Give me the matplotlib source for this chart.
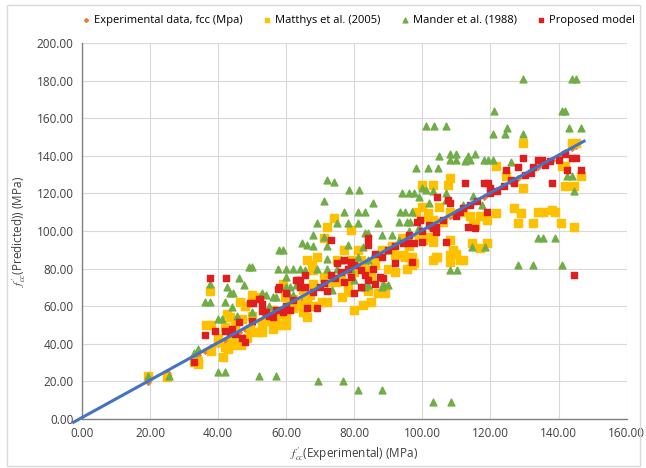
import matplotlib
matplotlib.use('Agg')
import matplotlib.pyplot as plt
from matplotlib.patches import Rectangle

plt.rcParams['font.family'] = ['Open Sans', 'DejaVu Sans']
plt.rcParams['mathtext.fontset'] = 'stix'

# experimental values (plotted on the 1:1 line)
exp_x = [19.5, 25, 33, 34, 36, 38, 40, 42, 44, 46, 48, 50, 52, 54, 56, 58, 60, 62, 64, 66,
         68, 70, 72, 74, 76, 78, 80, 82, 84, 86, 88, 90, 92, 94, 96, 98, 100, 102, 104, 106,
         108, 110, 112, 114, 116, 118, 120, 122, 124, 126, 128, 130, 132, 134, 136, 138, 140,
         142, 144, 145]

# Matthys et al. (2005)
matthys_pts = [
    (19.5, 23), (25, 22.5), (33, 30), (34, 29), (34, 31),
    (37.6, 68), (36.5, 50), (38, 50), (42.6, 56), (43.5, 54), (40, 43), (40, 41), (42, 38), (43, 37),
    (41.5, 33), (38, 36), (46.5, 62), (48, 60), (50, 66), (51.5, 65), (53, 50), (53, 46), (51, 46),
    (47, 42), (48.5, 43), (46.6, 39.4), (44.5, 39.4), (49.4, 48), (52, 46), (42, 49), (44, 43),
    (57, 54), (57.6, 50), (60, 50), (59, 72), (56, 58), (55, 52), (58, 56), (54, 55), (56, 48),
    (45, 50), (47, 53), (50, 55), (59, 70), (59.6, 65), (62, 64), (65, 68.6), (68, 72), (70.6, 62),
    (72, 62), (66, 54), (60, 54), (62, 59), (63, 62), (64, 60), (66, 63), (68, 60), (61, 62), (65, 57),
    (67, 66), (66, 84.5), (67.6, 82), (68, 79), (71, 75.5), (73, 73), (74.5, 73), (76.5, 65),
    (82.5, 60.6), (78, 67.5), (87, 67), (89, 67), (88.6, 67.6), (89, 70), (85, 62), (80, 58),
    (74, 107), (72, 102), (71, 96), (79, 100.5), (77, 90), (69, 86), (75, 84.5), (79, 84.5), (82, 84.5),
    (81, 90), (92, 87), (94.4, 87), (96, 86), (95, 86), (97, 86), (97.4, 83), (95.6, 80), (97, 82),
    (100, 124.5), (103, 124.5), (107.6, 124.5), (108, 128), (98, 110), (101.5, 107.5), (104, 105),
    (102, 97), (103, 94), (104.4, 86), (100, 113), (101.5, 109.6), (103, 106), (106, 105), (108, 95),
    (109, 90), (111.8, 84.6), (103, 95), (104, 86), (100.3, 95), (103, 84.6), (108, 87), (108, 83.5),
    (110, 88), (111, 84.6), (114.7, 93.6), (117, 91), (119, 93.6), (115, 104), (114, 108), (117, 108),
    (119, 106), (115.6, 103), (112, 110), (108, 110), (105, 113),
    (129.7, 147), (144, 147), (145, 147), (121.5, 134.6), (124.7, 129), (129.7, 123), (141, 134.6),
    (142, 134.6), (142, 124), (144.4, 124), (146.5, 129), (127, 112), (129, 109.6), (128, 104),
    (132.6, 104), (134, 110), (135.5, 110), (138, 111), (139, 110), (140.6, 104), (144.4, 102),
    (121.5, 109.6), (80, 78), (83, 80), (85, 76), (86, 82), (90, 80), (92, 78), (76, 76), (78, 72),
    (84, 68), (86, 85), (88, 90), (91, 92), (94, 96), (96, 92), (99, 98),
]

# Mander et al. (1988)
mander_pts = [
    (19.5, 23), (25.5, 23), (33, 35), (34, 37), (40, 25), (42, 25), (52, 23), (57, 23),
    (36, 62), (37.6, 62), (42, 62), (37.6, 72), (42.6, 70), (46, 75), (47.5, 71), (43.5, 67),
    (44.4, 67), (53, 67), (54, 66), (56, 65), (57, 65), (44, 59.6), (45.5, 55), (40, 53), (41, 53),
    (49, 81), (50, 81), (58, 90), (59, 90), (57.6, 80), (60, 80), (62, 80), (64, 80), (65.6, 79),
    (60, 75.5), (60, 70), (61, 70), (63, 71), (60.6, 67), (62, 66), (64.7, 93.6), (66, 92.5),
    (72, 127), (74, 126), (78.5, 122), (81.5, 122), (71, 116), (85.6, 115), (77, 110), (81, 110),
    (83, 110), (69, 104), (75, 104), (78, 104), (81, 104), (87, 104), (93, 105), (83, 99), (84, 99),
    (88, 98), (91, 98), (68, 98), (71, 97), (68, 92), (72, 92), (78, 92.5), (82.5, 91.5), (72, 85),
    (76, 84.5), (81, 86), (84, 84.5), (69, 80), (72, 80), (75, 80), (79, 80), (73.5, 68.6), (80, 74),
    (83, 70), (84, 71), (88.5, 72), (90, 71), (82, 70), (88, 70), (90, 90), (93, 95), (96, 100),
    (99, 102), (55, 60), (50, 57),
    (93.5, 110), (95, 110), (97, 110), (98, 133.5), (101.5, 133.5), (104.5, 133.5), (94, 120),
    (96, 120), (97.5, 120), (95.6, 105), (96.5, 105),
    (69.4, 20), (76.8, 20), (81, 15.5), (88, 15.5), (103, 9), (108.5, 9),
    (100, 123), (101, 122), (103, 121), (107, 120), (102, 115), (107, 116.5), (115, 118.6),
    (117.6, 114), (112, 114), (99, 118), (105, 140), (108, 141), (110, 141), (113.5, 140),
    (115.6, 141), (108, 137.5), (110, 137.5), (112.6, 137), (114, 137.5), (118, 137.5),
    (119.4, 137.5), (120.6, 137.5), (126, 136.7), (101, 156), (103.5, 156), (107, 156), (125, 155),
    (120.6, 151.5), (124.4, 151.5), (129.7, 151.5), (143, 155), (146.5, 155), (121, 164), (141, 164),
    (142, 164), (129.7, 181), (144, 181), (145, 181), (142.6, 129), (144, 129), (144.4, 121),
    (134, 96), (135.5, 96), (139, 96), (108, 79), (110.3, 79), (128, 82), (132.6, 82), (141, 82),
    (114.7, 91.5), (118.5, 91.5),
]

# Proposed model
proposed_pts = [
    (33, 30), (36, 44.6), (37.6, 75), (42.4, 75), (39, 47), (42, 47), (43.5, 46), (47, 43), (48, 41),
    (46, 51.6), (49.4, 61.7), (50.3, 61.7), (52.4, 64), (53, 57.4), (54, 57), (57, 58), (59, 57),
    (57.6, 69), (52, 64), (53, 61), (58, 70), (63, 74), (64, 74), (65.6, 70), (44, 48), (50, 52),
    (55, 55), (45, 45), (60, 60), (62, 63), (56, 54),
    (73, 95), (84, 92.6), (84, 96), (92, 83), (94.4, 93.6), (95.6, 93.6), (97.4, 93.6), (98.5, 105),
    (99.4, 106), (104.4, 118), (75, 83), (77, 84.6), (79, 83.5), (82, 79), (83, 76.6), (85.6, 80),
    (87.6, 75.5), (88.5, 75), (84, 74), (86, 72), (73, 76.6), (74.4, 75), (77, 73), (79, 75.5),
    (63.5, 74), (65.6, 76.6), (64, 70), (60, 67), (82, 70), (80, 67), (66, 59), (61, 58), (69, 59),
    (68, 67.6), (71, 72.5), (97, 83.5), (100, 94), (70, 70), (72, 68), (76, 78), (78, 80), (80, 82),
    (86, 88), (88, 86), (90, 90), (92, 92), (96, 98), (100, 100), (102, 103), (104, 102),
    (129.7, 139), (134, 137.5), (135, 137.5), (144, 139), (145, 139), (124.7, 132.5), (128, 134),
    (132.6, 134), (137.6, 137), (142.6, 132.5), (146.5, 132.5), (138, 125.5), (126.8, 125.5),
    (112.6, 125.5), (118, 125.5), (119.4, 125.5), (120, 123), (144.4, 76.6), (107.4, 116.5),
    (108, 115), (111, 110), (113.5, 102), (115.6, 101.5), (119, 110), (107, 94), (103, 101.5),
    (104, 99.5), (106, 106), (110, 108), (112, 112), (114, 114), (116, 116), (120, 120), (122, 121),
    (124, 124), (126, 127), (130, 130), (132, 131), (136, 135), (140, 138), (142, 141),
]

# 1:1 line
line_x = [-2.5, 147.5]
line_y = [-1.8, 147.8]

fig = plt.figure(figsize=(6.46, 4.68), dpi=100)
ax = fig.add_axes([0.127, 0.105, 0.843, 0.803])

mx, my = zip(*matthys_pts)
gx, gy = zip(*mander_pts)
px, py = zip(*proposed_pts)

ax.scatter(exp_x, exp_x, marker='D', s=8, color='#ED7D31', zorder=3,
           label='Experimental data, fcc (Mpa)')
ax.scatter(mx, my, marker='s', s=26, color='#FFC000', zorder=3, label='Matthys et al. (2005)')
ax.scatter(gx, gy, marker='^', s=24, color='#70AD47', zorder=4, label='Mander et al. (1988)')
ax.scatter(px, py, marker='s', s=17, color='#E01E1E', zorder=5, label='Proposed model')
ax.plot(line_x, line_y, color='#4472C4', lw=2.2, zorder=6, clip_on=False)

ax.set_xlim(0, 160)
ax.set_ylim(0, 200)
ax.set_xticks(range(0, 161, 20))
ax.set_yticks(range(0, 201, 20))
ax.set_xticklabels(['%.2f' % v for v in range(0, 161, 20)])
ax.set_yticklabels(['%.2f' % v for v in range(0, 201, 20)])
ax.tick_params(length=0, labelsize=8.5, labelcolor='#404040', pad=6)
ax.grid(True, color='#D9D9D9', lw=0.8)
ax.set_axisbelow(True)
for s in ['top', 'right']:
    ax.spines[s].set_visible(False)
for s in ['left', 'bottom']:
    ax.spines[s].set_color('#808080')
    ax.spines[s].set_linewidth(1.0)

ax.set_xlabel(r"$f^{\prime}_{cc}$(Experimental) (MPa)", fontsize=8.5, color='#404040', labelpad=4)
ax.set_ylabel(r"$f^{\prime}_{cc}$(Predicted)) (MPa)", fontsize=8.5, color='#404040', labelpad=6)

fig.legend(loc='upper center', bbox_to_anchor=(0.553, 0.99), ncol=4, frameon=False,
           fontsize=8, handletextpad=0.1, columnspacing=1.6, markerscale=0.7,
           handlelength=1.2)

fig.patches.append(Rectangle((0.011, 0.004), 0.98, 0.985, transform=fig.transFigure,
                             fill=False, edgecolor='#D9D9D9', lw=1))

plt.savefig('out.png', dpi=100)
